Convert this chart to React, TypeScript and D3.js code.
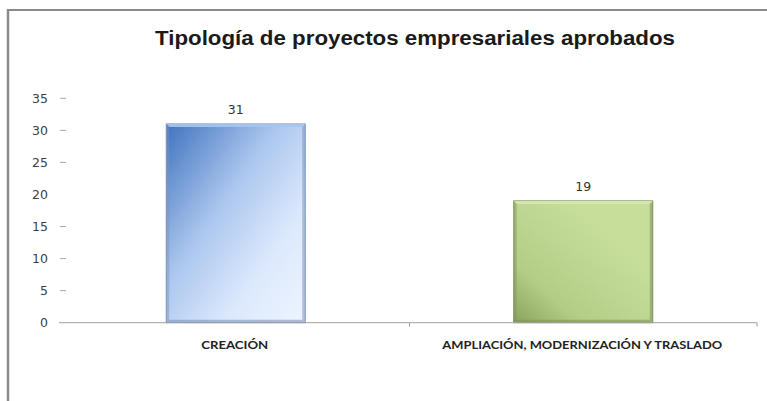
import React from "react";
import * as d3 from "d3";

const categories = ["CREACIÓN", "AMPLIACIÓN, MODERNIZACIÓN Y TRASLADO"];
const values = [31, 19];
const yTicks = [0, 5, 10, 15, 20, 25, 30, 35];
const title = "Tipología de proyectos empresariales aprobados";

export default function App() {
  const W = 767, H = 401;
  const x = d3.scaleBand<string>().domain(categories).range([62, 757]).paddingInner(0.6).paddingOuter(0.3);
  const y = d3.scaleLinear().domain([0, 35]).range([322.7, 98.3]);
  const fills = ["url(#gBlue)", "url(#gGreen)"];
  const edgeDark = ["#7d95bb", "#7d9358"];
  const edgeLight = ["#a9c5ee", "#d6e8b4"];
  const step = x.step();
  return (
    <svg width={W} height={H} style={{ position: "absolute", left: 0, top: 0, background: "#fff" }}>
      <defs>
        <linearGradient id="gBlue" x1="0" y1="0" x2="1" y2="1">
          <stop offset="0" stopColor="#4073bf" />
          <stop offset="0.4" stopColor="#abc6ee" />
          <stop offset="0.7" stopColor="#dbe8fc" />
          <stop offset="1" stopColor="#eef4ff" />
        </linearGradient>
        <linearGradient id="gGreen" x1="0" y1="1" x2="0.7" y2="0.3">
          <stop offset="0" stopColor="#8aa45e" />
          <stop offset="0.35" stopColor="#b3cd86" />
          <stop offset="1" stopColor="#c6de9a" />
        </linearGradient>
      </defs>
      <line x1={8} y1={10} x2={767} y2={10} stroke="#8a8a8a" strokeWidth={2} />
      <line x1={8} y1={9} x2={8} y2={401} stroke="#8a8a8a" strokeWidth={2.5} />
      <text x={415} y={45} textAnchor="middle" fontFamily="Liberation Sans, Arial, sans-serif" fontWeight="bold" fontSize={20} fill="#1a1a1a" textLength={520} lengthAdjust="spacingAndGlyphs">{title}</text>
      {yTicks.map((t) => (
        <g key={t}>
          <text x={48} y={y(t) + 4.5} textAnchor="end" fontFamily="DejaVu Sans, Verdana, sans-serif" fontSize={12.5} fill="#404040">{t}</text>
          {t !== 0 && t !== 20 && <line x1={60} x2={66} y1={y(t)} y2={y(t)} stroke="#a8a8a8" strokeWidth={1} />}
        </g>
      ))}
      {categories.map((c, i) => {
        const bx = x(c)!;
        const bw = x.bandwidth();
        const by = y(values[i]);
        const bh = y(0) - by;
        const e = 3;
        return (
          <g key={c}>
            <rect x={bx} y={by} width={bw} height={bh} fill={fills[i]} stroke={edgeDark[i]} strokeWidth={1} />
            <polygon points={`${bx},${by} ${bx + bw},${by} ${bx + bw - e},${by + e} ${bx + e},${by + e}`} fill={edgeLight[i]} opacity={0.9} />
            <polygon points={`${bx + bw},${by} ${bx + bw},${by + bh} ${bx + bw - e},${by + bh - e} ${bx + bw - e},${by + e}`} fill={edgeDark[i]} opacity={0.55} />
            <polygon points={`${bx},${by + bh} ${bx + bw},${by + bh} ${bx + bw - e},${by + bh - e} ${bx + e},${by + bh - e}`} fill={edgeDark[i]} opacity={0.6} />
            <polygon points={`${bx},${by} ${bx},${by + bh} ${bx + e},${by + bh - e} ${bx + e},${by + e}`} fill={edgeDark[i]} opacity={0.45} />
            <text x={bx + bw / 2} y={by - 10} textAnchor="middle" fontFamily="DejaVu Sans, Verdana, sans-serif" fontSize={12.5} fill="#333">{values[i]}</text>
            <text x={bx + bw / 2 - 1} y={349} textAnchor="middle" fontFamily="Lato, Open Sans, sans-serif" fontWeight="bold" fontSize={10.5} fill="#222" textLength={i === 0 ? 67 : 280} lengthAdjust="spacingAndGlyphs">{c}</text>
          </g>
        );
      })}
      <line x1={59} x2={757} y1={y(0)} y2={y(0)} stroke="#a0a0a0" strokeWidth={1} />
      {[1, 2].map((k) => (
        <line key={k} x1={62 + k * step} x2={62 + k * step} y1={y(0)} y2={y(0) + 4} stroke="#a0a0a0" strokeWidth={1} />
      ))}
    </svg>
  );
}
